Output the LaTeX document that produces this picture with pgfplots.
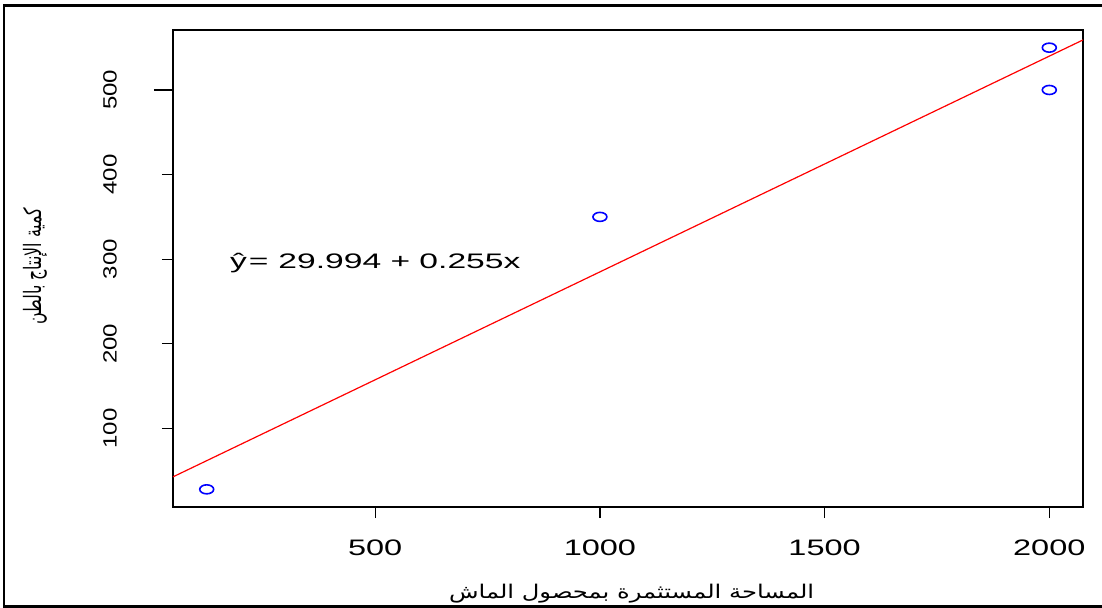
\documentclass[border=0pt]{standalone}
\usepackage{fontspec}
\usepackage{graphicx}
\usepackage{pgfplots}
\pgfplotsset{compat=1.18}
\setmainfont{Liberation Sans}
\newfontfamily\widefont[FakeStretch=1.45]{Liberation Sans}
\newfontfamily\eqfont[FakeStretch=1.6]{Liberation Sans}
\newfontfamily\ytickfont[FakeStretch=1.25]{Liberation Sans}
\newfontfamily\arabicfont[Script=Arabic]{DejaVu Sans}
\TeXXeTstate=1

% observed points: cultivated area vs. production
\pgfplotstableread{
x     y
125   28
1000  350
2000  500
2000  550
}\obs

% fitted line  y = 29.994 + 0.255 x  at the ends of the x range
\pgfplotstableread{
x     y
50    42.744
2075  559.119
}\fit

\begin{document}
\begin{tikzpicture}
\useasboundingbox (0,0) rectangle (551pt,-304pt);
\draw[line width=1.4pt] (2pt,-2.8pt) rectangle (560pt,-303.2pt);
\begin{axis}[
  at={(86.5pt,-253.5pt)}, anchor=south west,
  scale only axis, width=455pt, height=238.5pt,
  xmin=50, xmax=2075, ymin=7.12, ymax=570.88,
  axis line style={line width=0.9pt},
  xtick={500,1000,1500,2000},
  ytick={100,200,300,400,500},
  xtick pos=left, ytick pos=left,
  tick align=outside,
  major tick length=5.5pt,
  tick style={black, line width=0.6pt},
  ytick style={shorten <=-4pt},
  /pgf/number format/assume math mode=true,
  /pgf/number format/1000 sep={},
  xticklabel style={font=\fontsize{11.2}{13}\widefont, anchor=center, yshift=-15pt},
  yticklabel style={font=\fontsize{9.6}{11}\ytickfont, xshift=-26pt, rotate=90, anchor=center},
  clip=false,
]
\addplot[red, line width=0.6pt] table[x=x, y=y] {\fit};
\addplot[only marks, mark=o, blue, mark size=2.25pt,
  mark options={xscale=1.55, line width=0.8pt}] table[x=x, y=y] {\obs};
\node[font=\fontsize{10.5}{12}\eqfont, anchor=center] at (axis cs:500,295)
  {ŷ\kern1pt=\kern5pt29.994 + 0.255x};
\node[anchor=center] at (axis description cs:0.504,-0.182)
  {\resizebox*{182.5pt}{9.5pt}{\arabicfont\beginR المساحة المستثمرة بمحصول الماش\endR}};
\node[anchor=center, rotate=90] at (axis description cs:-0.1516,0.505)
  {\resizebox*{58.5pt}{12pt}{\arabicfont\beginR كمية الإنتاج بالطن\endR}};
\end{axis}
\end{tikzpicture}
\end{document}
